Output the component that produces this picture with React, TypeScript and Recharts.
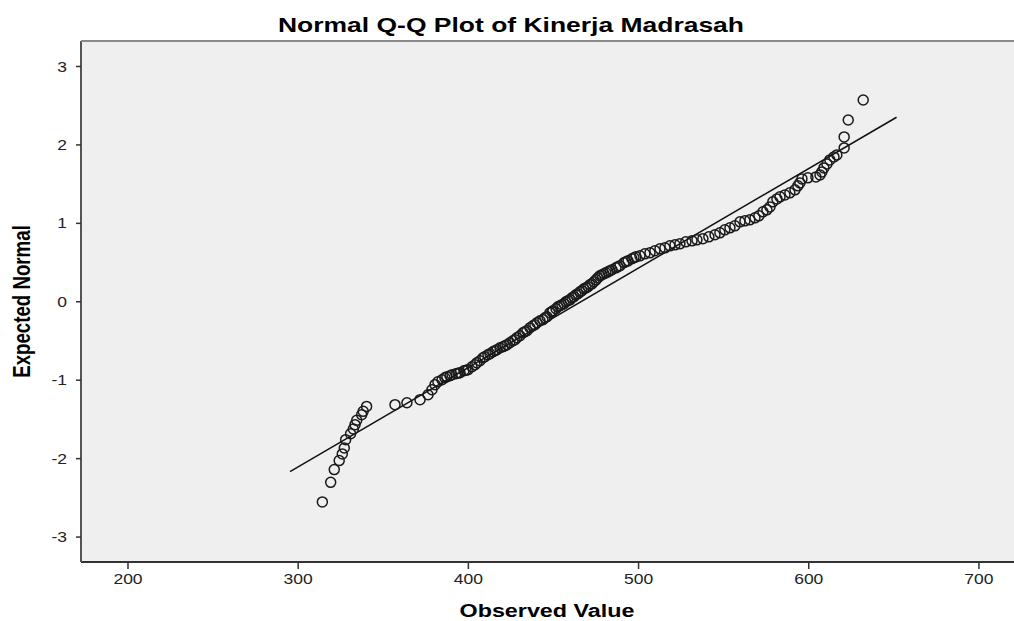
import React from 'react';
import { ScatterChart, Scatter, XAxis, YAxis, ReferenceLine, CartesianGrid } from 'recharts';

const lowerTail: [number, number][] = [
  [314.2, -2.552], [319.1, -2.302], [321.2, -2.14], [324.1, -2.025], [325.9, -1.94],
  [327.1, -1.864], [327.9, -1.758], [330.8, -1.682], [332.4, -1.622], [333.4, -1.567],
  [334.4, -1.512], [337.3, -1.44], [338.2, -1.397], [340.2, -1.334], [356.9, -1.312],
  [363.9, -1.287], [371.6, -1.248], [376.3, -1.185], [378.6, -1.121], [380.4, -1.057],
  [382.1, -1.019],
];

const centralBand: [number, number][] = [
  [384.5, -0.994], [386.2, -0.968], [387.4, -0.955], [389.2, -0.943], [390.4, -0.93],
  [392.7, -0.917], [393.9, -0.91], [395.1, -0.904], [397.4, -0.879], [398.6, -0.872],
  [399.8, -0.866], [402.1, -0.828], [403.9, -0.803], [405.0, -0.777], [406.8, -0.752],
  [408.6, -0.713], [409.7, -0.701], [411.5, -0.675], [412.7, -0.662], [414.4, -0.637],
  [415.6, -0.624], [416.8, -0.611], [418.6, -0.586], [420.3, -0.573], [421.5, -0.561],
  [422.7, -0.548], [424.4, -0.522], [426.2, -0.497], [427.4, -0.484], [428.5, -0.459],
  [430.3, -0.433], [432.1, -0.395], [433.2, -0.382], [434.4, -0.369], [436.2, -0.331],
  [437.9, -0.306], [439.1, -0.293], [440.3, -0.268], [442.1, -0.242], [443.8, -0.229],
  [445.0, -0.204], [446.2, -0.191], [447.9, -0.14], [449.1, -0.127], [449.7, -0.115],
  [451.5, -0.089], [452.6, -0.064], [453.8, -0.051], [455.0, -0.038], [456.2, -0.025],
  [457.3, 0.0], [458.5, 0.013], [459.7, 0.025], [460.9, 0.051], [462.0, 0.064],
  [463.2, 0.089], [464.4, 0.102], [465.6, 0.127], [466.7, 0.14], [467.9, 0.166],
  [469.1, 0.178], [470.3, 0.191], [471.4, 0.217], [472.6, 0.229], [473.8, 0.255],
  [475.0, 0.28], [476.1, 0.306], [477.3, 0.331], [478.5, 0.344], [479.7, 0.357],
  [480.8, 0.369], [482.0, 0.382], [483.2, 0.395], [484.4, 0.408], [486.7, 0.433],
  [487.9, 0.446], [489.1, 0.459], [491.4, 0.497], [492.6, 0.51], [493.8, 0.522],
  [496.1, 0.548], [497.3, 0.561], [498.5, 0.573], [500.8, 0.586], [503.7, 0.611],
  [506.7, 0.624], [509.6, 0.65], [512.6, 0.675], [515.5, 0.688], [518.4, 0.713],
  [521.4, 0.726], [524.3, 0.739], [527.8, 0.764], [531.4, 0.777], [534.3, 0.79],
  [537.8, 0.803], [541.3, 0.828], [544.9, 0.854], [547.8, 0.879], [550.7, 0.917],
  [553.7, 0.943], [556.6, 0.968],
];

const upperTail: [number, number][] = [
  [559.6, 1.019], [562.5, 1.032], [565.4, 1.045], [568.4, 1.07], [570.7, 1.096],
  [573.1, 1.147], [575.4, 1.172], [577.2, 1.21], [578.9, 1.274], [581.3, 1.312],
  [583.1, 1.338], [586.0, 1.363], [588.9, 1.389], [591.9, 1.427], [593.6, 1.478],
  [594.8, 1.516], [596.0, 1.567], [599.5, 1.58], [604.2, 1.592], [606.6, 1.618],
  [607.7, 1.656], [608.9, 1.707], [610.7, 1.758], [612.4, 1.809], [614.8, 1.847],
  [616.5, 1.873], [620.8, 1.962], [620.8, 2.102], [623.2, 2.318], [632.0, 2.573],
];

const xTicks = [200, 300, 400, 500, 600, 700];
const yTicks = [-3, -2, -1, 0, 1, 2, 3];
const normalLine = [
  { x: 295.2, y: -2.166 },
  { x: 651.6, y: 2.353 },
];

const points = [...lowerTail, ...centralBand, ...upperTail].map(([observed, expected]) => ({
  observed,
  expected,
}));

const FONT = '"Liberation Sans", Arial, Helvetica, sans-serif';
const W = 1014;
const H = 621;

const OpenCircle = (props: any) => {
  const { cx, cy } = props;
  if (cx == null || cy == null) return null;
  return <circle cx={cx} cy={cy} r={5} fill="none" stroke="#1a1a1a" strokeWidth={1.5} />;
};

const XTick = (props: any) => {
  const { x, y, payload } = props;
  return (
    <g transform={`translate(${x},${y})`}>
      <text x={0} y={0} dy={13} textAnchor="middle" transform="scale(1.25,1)" fontFamily={FONT} fontSize={14} fill="#222">
        {payload.value}
      </text>
    </g>
  );
};

const YTick = (props: any) => {
  const { x, y, payload } = props;
  return (
    <g transform={`translate(${x},${y})`}>
      <text x={0} y={0} dy={5} textAnchor="end" transform="scale(1.25,1)" fontFamily={FONT} fontSize={14} fill="#222">
        {payload.value}
      </text>
    </g>
  );
};

export default function App() {
  return (
    <div style={{ position: 'absolute', left: 0, top: 0, width: W, height: H, background: '#fff' }}>
      <ScatterChart width={W} height={H} margin={{ top: 41, right: 0, bottom: 0, left: 0 }}>
        <CartesianGrid fill="#efefef" horizontal={false} vertical={false} />
        <XAxis
          type="number"
          dataKey="observed"
          domain={[172.39, 720.6]}
          ticks={xTicks}
          allowDataOverflow
          height={59}
          tickSize={7}
          tickMargin={2}
          tick={(p: any) => <XTick {...p} />}
          axisLine={{ stroke: '#333', strokeWidth: 2 }}
          tickLine={{ stroke: '#333', strokeWidth: 1.5 }}
        />
        <YAxis
          type="number"
          dataKey="expected"
          domain={[-3.318, 3.325]}
          ticks={yTicks}
          allowDataOverflow
          width={81}
          tickSize={5}
          tickMargin={9}
          tick={(p: any) => <YTick {...p} />}
          axisLine={{ stroke: '#555', strokeWidth: 2 }}
          tickLine={{ stroke: '#333', strokeWidth: 1.5 }}
        />
        <ReferenceLine segment={normalLine} stroke="#111" strokeWidth={1.5} ifOverflow="visible" />
        <Scatter data={points} shape={(p: any) => <OpenCircle {...p} />} isAnimationActive={false} />
      </ScatterChart>
      <svg width={W} height={H} style={{ position: 'absolute', left: 0, top: 0, pointerEvents: 'none' }}>
        <line x1={81} y1={41} x2={W} y2={41} stroke="#8a8a8a" strokeWidth={2} />
        <text x={511} y={32} textAnchor="middle" fontFamily={FONT} fontWeight="bold" fontSize={21} textLength={466} lengthAdjust="spacingAndGlyphs" fill="#000">
          Normal Q-Q Plot of Kinerja Madrasah
        </text>
        <text x={547} y={617} textAnchor="middle" fontFamily={FONT} fontWeight="bold" fontSize={17.5} textLength={175} lengthAdjust="spacingAndGlyphs" fill="#000">
          Observed Value
        </text>
        <text transform="translate(30,301.5) scale(1.3,1) rotate(-90)" x={0} y={0} textAnchor="middle" fontFamily={FONT} fontWeight="bold" fontSize={18.7} fill="#000">
          Expected Normal
        </text>
      </svg>
    </div>
  );
}
